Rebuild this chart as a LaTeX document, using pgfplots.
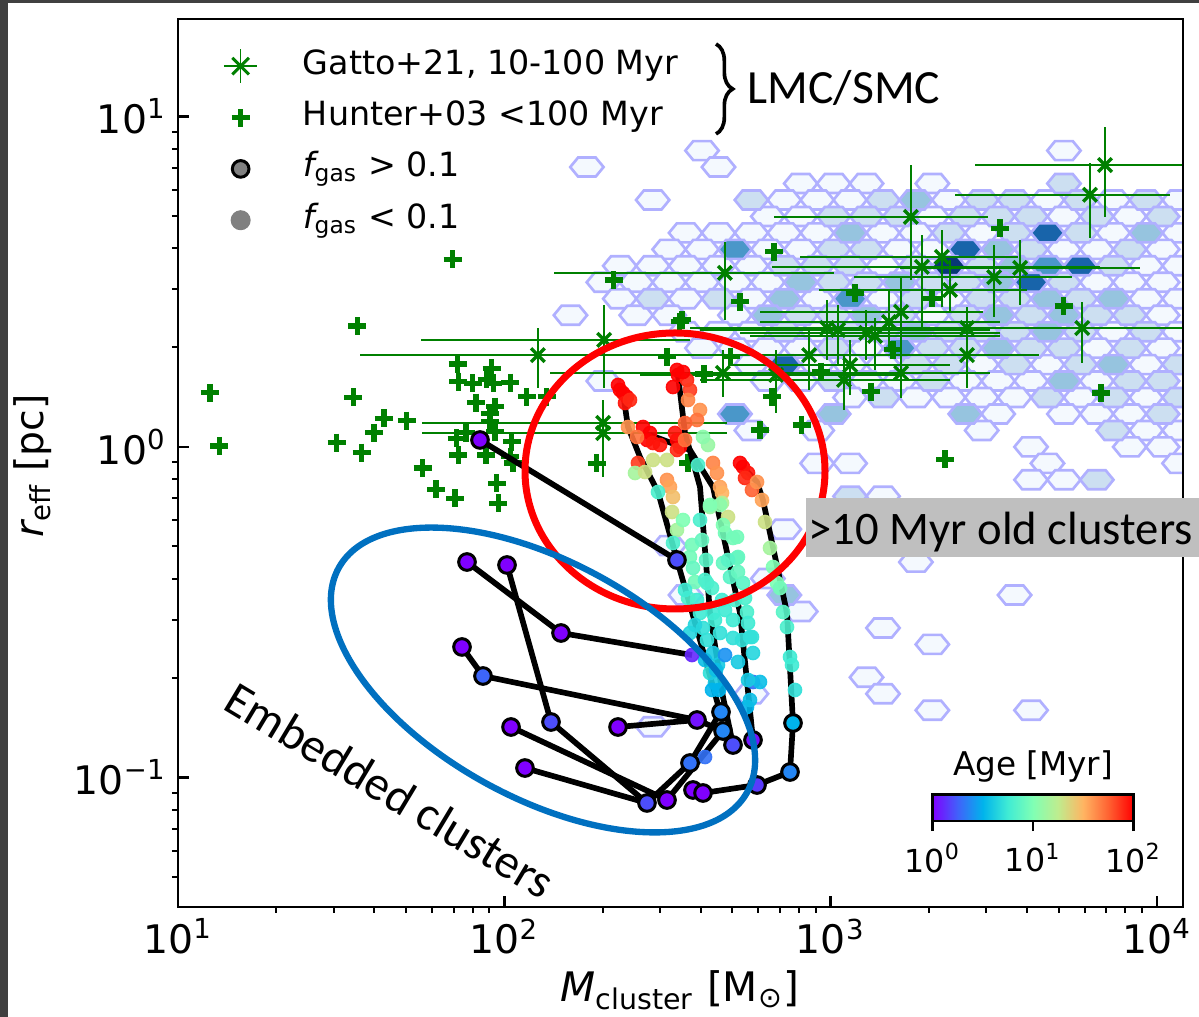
\documentclass[border=0pt]{standalone}
\usepackage{pgfplots}
\pgfplotsset{compat=1.18}
\usepackage{pgfplotstable}
\usepackage{fontspec}
\setmainfont{DejaVu Sans}
\newfontfamily\carlito{Carlito}
\usetikzlibrary{decorations.pathreplacing,calc}

\definecolor{framegray}{RGB}{64,64,64}
\definecolor{hexedge}{RGB}{176,176,255}
\definecolor{hA}{RGB}{244,249,254}
\definecolor{hB}{RGB}{204,223,241}
\definecolor{hC}{RGB}{150,196,223}
\definecolor{hD}{RGB}{74,151,201}
\definecolor{hE}{RGB}{24,100,170}
\definecolor{hF}{RGB}{8,56,118}
\definecolor{mplgreen}{RGB}{0,128,0}
\definecolor{annred}{RGB}{255,0,0}
\definecolor{annblue}{RGB}{0,112,192}
\definecolor{boxgray}{RGB}{191,191,191}

\pgfplotsset{colormap={mplrainbow}{rgb255(0cm)=(128,0,255) rgb255(1cm)=(64,98,250) rgb255(2cm)=(0,180,236) rgb255(3cm)=(64,236,212) rgb255(4cm)=(128,255,180) rgb255(5cm)=(191,236,142) rgb255(6cm)=(255,180,98) rgb255(7cm)=(255,98,50) rgb255(8cm)=(255,0,0)}}

\pgfdeclareplotmark{hexbin}{%
  \pgfpathmoveto{\pgfqpoint{5.0pt}{0pt}}%
  \pgfpathlineto{\pgfqpoint{2.65pt}{2.85pt}}%
  \pgfpathlineto{\pgfqpoint{-2.65pt}{2.85pt}}%
  \pgfpathlineto{\pgfqpoint{-5.0pt}{0pt}}%
  \pgfpathlineto{\pgfqpoint{-2.65pt}{-2.85pt}}%
  \pgfpathlineto{\pgfqpoint{2.65pt}{-2.85pt}}%
  \pgfpathclose
  \pgfusepathqfillstroke}

\newcommand\pxp[2]{({(#1)*0.3pt},{(1017-(#2))*0.3pt})}

% hexbin bins: lattice indices m (mass direction), k (radius direction)
\pgfplotstableread{
m k
3 -3
25 -3
-4 -2
4 -2
9 -1
11 -1
13 -1
17 -1
0 0
8 0
10 0
12 0
18 0
24 0
28 0
32 0
7 1
9 1
17 1
25 1
29 1
2 2
4 2
6 2
8 2
10 2
14 2
16 2
20 2
28 2
32 2
1 3
3 3
7 3
9 3
15 3
17 3
25 3
27 3
31 3
-2 4
0 4
2 4
4 4
6 4
14 4
30 4
32 4
-3 5
-1 5
1 5
3 5
5 5
7 5
27 5
29 5
31 5
-2 6
2 6
6 6
10 6
14 6
18 6
30 6
32 6
-5 7
-1 7
1 7
5 7
17 7
31 7
2 8
4 8
6 8
10 8
28 8
32 8
3 9
5 9
7 9
9 9
13 9
27 9
31 9
6 10
10 10
12 10
14 10
20 10
24 10
30 10
-3 11
7 11
9 11
13 11
15 11
19 11
21 11
23 11
27 11
12 12
16 12
18 12
20 12
22 12
26 12
30 12
21 13
25 13
27 13
29 13
6 14
10 14
20 14
30 14
32 14
23 15
29 15
31 15
10 16
12 16
24 16
32 16
23 17
25 17
14 18
8 20
1 21
16 22
7 23
2 24
22 24
9 25
14 26
17 27
13 29
6 30
14 30
17 31
23 31
0 32
}\hexA
\pgfplotstableread{
m k
25 -1
6 0
14 0
20 0
22 0
26 0
30 0
11 1
13 1
15 1
19 1
21 1
23 1
27 1
31 1
18 2
22 2
26 2
11 3
13 3
23 3
29 3
8 4
10 4
12 4
16 4
20 4
28 4
11 5
13 5
17 5
19 5
25 5
0 6
4 6
16 6
20 6
22 6
26 6
9 7
11 7
15 7
19 7
23 7
27 7
29 7
8 8
12 8
14 8
18 8
20 8
22 8
26 8
30 8
11 9
17 9
19 9
23 9
25 9
29 9
16 10
18 10
22 10
26 10
32 10
11 11
17 11
29 11
31 11
14 12
24 12
28 12
32 12
31 13
28 14
27 17
12 18
}\hexB
\pgfplotstableread{
m k
16 0
12 2
30 2
21 3
22 4
9 5
15 5
21 5
8 6
24 6
28 6
7 7
13 7
21 7
25 7
16 8
24 8
21 9
28 10
25 11
11 13
19 13
8 24
}\hexC
\pgfplotstableread{
m k
5 3
24 4
12 6
15 9
5 13
}\hexD
\pgfplotstableread{
m k
24 2
19 3
26 4
23 5
8 10
}\hexE
\pgfplotstableread{
m k
18 4
}\hexF

% simulated clusters, f_gas < 0.1 : log10 M, log10 r_eff, log10 age
\pgfplotstableread{
f g c
2.3546 0.1725 2.0
2.3638 0.1634 2.0
2.3760 0.1513 2.0
2.3699 0.1331 1.95
2.3485 0.1876 2.0
2.3852 0.1422 1.9
2.5323 0.2178 2.0
2.5292 0.2330 2.0
2.5170 0.1815 2.0
2.5599 0.2027 1.9
2.5477 0.2269 2.0
2.5691 0.1725 1.85
2.4465 0.0424 2.0
2.4251 0.0605 2.0
2.4373 0.0212 2.0
2.4557 0.0121 1.95
2.4772 0.0061 1.95
2.5292 0.0212 2.0
2.5385 0.0000 2.0
2.5231 0.0424 1.95
2.7316 -0.0605 2.0
2.7469 -0.0787 1.95
2.7224 -0.0484 2.0
2.7377 -0.0938 1.9
2.7591 -0.1301 1.75
2.4097 -0.0484 1.85
2.5292 -0.0091 1.9
2.3791 0.0605 1.6
2.4067 0.0303 1.7
2.5630 0.1422 1.65
2.5998 0.1119 1.6
2.5906 0.0817 1.7
2.5538 0.0726 1.75
2.5538 0.0212 1.7
2.6396 -0.0484 1.65
2.6518 -0.0787 1.6
2.6611 -0.1210 1.55
2.6672 -0.1392 1.5
2.7745 -0.1059 1.6
2.7898 -0.1604 1.55
2.4986 -0.0998 1.6
2.5078 -0.1210 1.55
2.5170 -0.1513 1.45
2.4006 -0.0787 1.15
2.4313 -0.0756 1.3
2.4557 -0.0393 1.3
2.4986 -0.0393 1.3
2.5140 -0.1967 1.3
2.5292 -0.2511 1.15
2.7990 -0.2269 1.3
2.8143 -0.3056 1.15
2.6304 -0.1815 1.1
2.6672 -0.1694 1.2
2.6856 -0.2118 1.3
2.6243 0.0061 1.1
2.6090 0.0303 1.05
2.4711 -0.1362 0.8
2.5170 -0.2905 0.8
2.5477 -0.2209 1.0
2.5752 -0.2965 0.95
2.5691 -0.3328 0.95
2.5783 -0.3661 0.9
2.5998 -0.2209 0.8
2.5936 -0.0545 0.8
2.6764 -0.2602 0.95
2.7132 -0.2723 0.95
2.6703 -0.3510 0.9
2.7162 -0.3328 0.9
2.6917 -0.3934 0.85
2.7316 -0.4115 0.85
2.8358 -0.4115 1.0
2.8542 -0.4993 0.85
2.8664 -0.5447 0.8
2.5691 -0.5628 0.65
2.5906 -0.4630 0.75
2.6212 -0.4115 0.8
2.6396 -0.5024 0.75
2.6611 -0.5628 0.7
2.7009 -0.5235 0.75
2.7438 -0.4993 0.8
2.7530 -0.5749 0.7
2.5844 -0.4085 0.95
2.5630 -0.4569 0.8
2.5998 -0.5024 0.75
2.6090 -0.5477 0.7
2.6212 -0.5840 0.7
2.6396 -0.6233 0.6
2.6549 -0.6596 0.6
2.6304 -0.6838 0.7
2.6457 -0.7141 0.6
2.6764 -0.6294 0.4
2.6151 -0.4024 0.8
2.6366 -0.4267 0.8
2.6672 -0.4630 0.75
2.6457 -0.5235 0.75
2.6764 -0.4933 0.75
2.7009 -0.5779 0.7
2.7162 -0.6505 0.6
2.7438 -0.7867 0.5
2.7622 -0.7110 0.3
2.6611 -0.1755 1.05
2.6703 -0.2360 1.0
2.7009 -0.2753 0.95
2.7132 -0.3359 0.9
2.7162 -0.3782 0.9
2.7377 -0.4569 0.8
2.7469 -0.5326 0.75
2.7591 -0.5749 0.7
2.7622 -0.6233 0.65
2.7836 -0.7110 0.55
2.8235 -0.3631 1.0
2.8450 -0.4267 0.95
2.8756 -0.6354 0.75
2.8817 -0.6596 0.75
2.8909 -0.7352 0.7
2.6304 -0.1755 1.0
2.6059 -0.2814 0.9
2.6182 -0.3419 0.85
2.6488 -0.6747 0.55
2.6580 -0.7352 0.5
2.6856 -0.3419 0.85
2.7070 -0.4630 0.8
2.7285 -0.5840 0.7
2.7469 -0.7050 0.6
2.7530 -0.7655 0.55
2.5538 -0.4327 0.75
2.5844 -0.5386 0.65
2.6151 -0.6445 0.55
2.6366 -0.7352 0.5
2.5752 -0.6294 0.1
2.6151 -0.9380 0.3
}\lowgas

% simulated clusters, f_gas > 0.1
\pgfplotstableread{
f g c
2.7622 -0.8865 0.05
1.9255 0.0212 0
1.8857 -0.3480 0
2.0083 -0.3570 0
2.1738 -0.5628 0
1.8704 -0.6051 0
1.9347 -0.6929 0.26
2.0206 -0.8472 0
2.1431 -0.8321 0.2
2.3485 -0.8472 0
2.0634 -0.9713 0
2.5292 -0.3419 0.2
2.5906 -0.8260 0.05
2.6641 -0.8018 0.36
2.6703 -0.8593 0.36
2.7009 -0.9017 0.2
2.5691 -0.9561 0.3
2.4373 -1.0771 0.2
2.4986 -1.0681 0
2.5783 -1.0378 0
2.6090 -1.0469 0
2.7745 -1.0227 0.15
2.8756 -0.9834 0.36
2.8848 -0.8351 0.5
}\highgas

\begin{document}
\begin{tikzpicture}
\useasboundingbox (0pt,0pt) rectangle (359.7pt,305.1pt);
\fill[white] (0pt,0pt) rectangle (359.7pt,305.1pt);
\fill[framegray] (0pt,0pt) rectangle (2.5pt,305.1pt);
\fill[framegray] (0pt,304.2pt) rectangle (359.7pt,305.1pt);

\begin{axis}[
  at={(53.4pt,33pt)}, anchor=south west,
  scale only axis, width=301.5pt, height=266.4pt,
  xmin=1, xmax=4.08, ymin=-1.3918, ymax=1.2950,
  axis on top,
  clip marker paths=true,
  axis line style={line width=0.8pt},
  tick pos=left, tick align=inside,
  major tick length=3.3pt, minor tick length=1.8pt,
  tick style={black, line width=0.8pt},
  every minor x tick/.append style={yshift=-1.8pt, line width=0.6pt},
  every minor y tick/.append style={xshift=-1.8pt, line width=0.6pt},
  xtick={1,2,3,4},
  xticklabels={10\textsuperscript{1},10\textsuperscript{2},10\textsuperscript{3},10\textsuperscript{4}},
  minor xtick={1.30103,1.47712,1.60206,1.69897,1.77815,1.84510,1.90309,1.95424,2.30103,2.47712,2.60206,2.69897,2.77815,2.84510,2.90309,2.95424,3.30103,3.47712,3.60206,3.69897,3.77815,3.84510,3.90309,3.95424},
  ytick={-1,0,1},
  yticklabels={10\textsuperscript{−1},10\textsuperscript{0},10\textsuperscript{1}},
  minor ytick={-1.30103,-1.22185,-1.15490,-1.09691,-1.04576,-0.69897,-0.52288,-0.39794,-0.30103,-0.22185,-0.15490,-0.09691,-0.04576,0.30103,0.47712,0.60206,0.69897,0.77815,0.84510,0.90309,0.95424},
  ticklabel style={font=\fontsize{11.8}{13}\selectfont},
  colormap name=mplrainbow,
  point meta min=0, point meta max=2,
  colorbar horizontal,
  colorbar style={
    at={($(parent axis.south west)+(226.4pt,34.3pt)$)}, anchor=south west,
    scale only axis, width=60.2pt, height=8pt,
    xtick={0,1,2},
    xticklabels={10\textsuperscript{0},10\textsuperscript{1},10\textsuperscript{2}},
    xticklabel style={font=\fontsize{9.5}{11}\selectfont, yshift=0pt},
    tick pos=left, tick align=outside, major tick length=3pt,
    tick style={black, line width=0.8pt},
    axis line style={line width=0.8pt},
    title={Age [Myr]},
    title style={font=\fontsize{9.8}{11}\selectfont, at={(0.5,1)}, anchor=south, yshift=-6pt},
  },
  legend style={at={(0.0335,0.9665)}, anchor=north west, draw=none, fill=none,
    inner sep=0pt, outer sep=0pt, font=\fontsize{10}{12}\selectfont,
    row sep=5.0pt, column sep=10pt,
    nodes={inner sep=0pt, text height=7.6pt, text depth=2.8pt}},
  legend cell align=left,
]

\addlegendimage{legend image code/.code={
  \path (0pt,0pt) (17pt,0pt);
  \draw[mplgreen, line width=0.45pt] (8.5pt,-5pt) -- (8.5pt,5pt) (3.5pt,0pt) -- (13.5pt,0pt);
  \draw[mplgreen, line width=0.9pt] (6pt,-2.5pt) -- (11pt,2.5pt) (6pt,2.5pt) -- (11pt,-2.5pt);
}}
\addlegendentry{Gatto+21, 10-100 Myr}
\addlegendimage{legend image code/.code={
  \path (0pt,0pt) (17pt,0pt);
  \draw[mplgreen, line width=1.6pt] (8.5pt,-2.7pt) -- (8.5pt,2.7pt) (5.8pt,0pt) -- (11.2pt,0pt);
}}
\addlegendentry{Hunter+03 <100 Myr}
\addlegendimage{legend image code/.code={
  \path (0pt,0pt) (17pt,0pt);
  \draw[fill=gray, draw=black, line width=0.9pt] (8.5pt,0pt) circle (2.5pt);
}}
\addlegendentry{{\itshape f}\textsubscript{gas} > 0.1}
\addlegendimage{legend image code/.code={
  \path (0pt,0pt) (17pt,0pt);
  \fill[gray] (8.5pt,0pt) circle (2.8pt);
}}
\addlegendentry{{\itshape f}\textsubscript{gas} < 0.1}

% hexbin density
\addplot[only marks, mark=hexbin, mark options={draw=hexedge, fill=hA, line width=0.8pt}] table[x expr={2.4548+0.050414*(\thisrow{m})}, y expr={0.74735-0.049803*(\thisrow{k})}] {\hexA};
\addplot[only marks, mark=hexbin, mark options={draw=hexedge, fill=hB, line width=0.8pt}] table[x expr={2.4548+0.050414*(\thisrow{m})}, y expr={0.74735-0.049803*(\thisrow{k})}] {\hexB};
\addplot[only marks, mark=hexbin, mark options={draw=hexedge, fill=hC, line width=0.8pt}] table[x expr={2.4548+0.050414*(\thisrow{m})}, y expr={0.74735-0.049803*(\thisrow{k})}] {\hexC};
\addplot[only marks, mark=hexbin, mark options={draw=hexedge, fill=hD, line width=0.8pt}] table[x expr={2.4548+0.050414*(\thisrow{m})}, y expr={0.74735-0.049803*(\thisrow{k})}] {\hexD};
\addplot[only marks, mark=hexbin, mark options={draw=hexedge, fill=hE, line width=0.8pt}] table[x expr={2.4548+0.050414*(\thisrow{m})}, y expr={0.74735-0.049803*(\thisrow{k})}] {\hexE};
\addplot[only marks, mark=hexbin, mark options={draw=hexedge, fill=hF, line width=0.8pt}] table[x expr={2.4548+0.050414*(\thisrow{m})}, y expr={0.74735-0.049803*(\thisrow{k})}] {\hexF};

% Gatto+21 with error bars
\addplot[only marks, mark=x, mark size=2.9pt, mplgreen, mark options={line width=1pt, solid},
  error bars/.cd, x dir=both, x explicit, y dir=both, y explicit, error mark=none,
  error bar style={line width=0.5pt, mplgreen}]
coordinates {
(3.841,0.853) += (0.245,0.115) -= (0.398,0.157)
(3.795,0.763) += (0.245,0.097) -= (0.414,0.130)
(3.246,0.696) += (0.236,0.157) -= (0.420,0.191)
(2.676,0.527) += (0.334,0.094) -= (0.524,0.142)
(3.341,0.575) += (0.233,0.082) -= (0.435,0.151)
(3.280,0.545) += (0.546,0.097) -= (0.460,0.182)
(3.501,0.514) += (0.239,0.097) -= (0.429,0.121)
(3.366,0.475) += (0.236,0.091) -= (0.401,0.070)
(3.771,0.360) += (0.316,0.079) -= (0.460,0.106)
(3.418,0.360) += (0.285,0.064) -= (0.717,0.076)
(3.418,0.278) += (0.221,0.061) -= (0.573,0.100)
(3.216,0.409) += (0.251,0.106) -= (0.432,0.257)
(3.179,0.378) += (0.340,0.097) -= (0.395,0.085)
(2.989,0.360) += (0.484,0.085) -= (0.420,0.097)
(3.023,0.354) += (0.466,0.076) -= (0.423,0.106)
(3.109,0.345) += (0.411,0.070) -= (0.386,0.082)
(3.136,0.336) += (0.383,0.054) -= (0.383,0.103)
(3.060,0.248) += (0.306,0.076) -= (0.368,0.091)
(2.934,0.278) += (0.371,0.076) -= (0.334,0.106)
(3.041,0.203) += (0.325,0.076) -= (0.441,0.091)
(3.216,0.224) += (0.083,0.070) -= (0.598,0.076)
(2.670,0.224) += (0.818,0.070) -= (0.530,0.073)
(2.103,0.278) += (0.634,0.082) -= (0.546,0.100)
(2.306,0.324) += (0.264,0.106) -= (0.561,0.145)
(2.303,0.073) += (0.380,0.070) -= (0.555,0.112)
(2.303,0.042) += (0.380,0.070) -= (0.555,0.133)
(3.581,0.542) += (0.368,0.085) -= (0.368,0.112)
(2.833,0.218) += (0.380,0.076) -= (0.417,0.115)
};

% Hunter+03
\addplot[only marks, mark=+, mark size=2.7pt, mplgreen, mark options={line width=1.6pt}]
coordinates {
(1.842,0.568) (1.550,0.366) (1.098,0.164) (1.537,0.150) (1.127,0.003) (1.486,0.013)
(1.563,-0.017) (1.601,0.043) (1.631,0.087) (1.701,0.080) (1.750,-0.064) (1.791,-0.128)
(1.849,-0.155) (1.857,0.251) (1.859,0.198) (1.903,0.193) (1.961,0.238) (1.946,0.205)
(1.966,0.193) (2.018,0.195) (2.069,0.152) (1.913,0.134) (1.972,0.122) (1.956,0.102)
(1.956,0.077) (1.854,0.026) (1.883,0.043) (1.859,-0.024) (1.944,-0.024) (1.972,0.046)
(2.023,0.016) (2.018,-0.029) (1.977,-0.110) (1.982,-0.170) (2.027,-0.048) (3.519,0.662)
(2.827,0.591) (2.335,0.505) (2.722,0.440) (3.075,0.465) (3.311,0.450) (3.714,0.427)
(2.537,0.379) (2.545,0.385) (2.499,0.273) (2.694,0.273) (2.612,0.221) (2.971,0.228)
(2.820,0.152) (3.124,0.167) (3.191,0.294) (3.829,0.163) (2.911,0.067) (2.784,0.051)
(2.283,-0.049) (2.563,-0.048) (3.351,-0.037) (2.130,0.152)
};

% evolutionary tracks
\addplot[black, line width=1.7pt, line join=round] coordinates {(1.9255,0.0212) (2.5292,-0.3419)};
\addplot[black, line width=1.7pt, line join=round] coordinates {(1.8857,-0.3480) (2.1738,-0.5628) (2.5752,-0.6294)};
\addplot[black, line width=1.7pt, line join=round] coordinates {(2.0083,-0.3570) (2.1431,-0.8321) (2.4373,-1.0771) (2.5691,-0.9561) (2.6611,-0.8048)};
\addplot[black, line width=1.7pt, line join=round] coordinates {(2.0634,-0.9713) (2.4373,-1.0771)};
\addplot[black, line width=1.7pt, line join=round] coordinates {(1.8704,-0.6051) (1.9347,-0.6929) (2.5906,-0.8260) (2.6703,-0.8593) (2.7009,-0.9017)};
\addplot[black, line width=1.7pt, line join=round] coordinates {(2.0206,-0.8472) (2.4986,-1.0681) (2.6703,-0.8593)};
\addplot[black, line width=1.7pt, line join=round] coordinates {(2.3485,-0.8472) (2.5906,-0.8260)};
\addplot[black, line width=1.7pt, line join=round] coordinates {(2.5783,-1.0378) (2.6090,-1.0469) (2.7745,-1.0227) (2.8756,-0.9834) (2.8848,-0.8351)};
\addplot[black, line width=1.7pt, line join=round] coordinates {(2.3638,0.1634) (2.3791,0.0605) (2.4159,-0.0303) (2.4711,-0.1362) (2.5292,-0.3419) (2.5998,-0.5840) (2.6611,-0.8018)};
\addplot[black, line width=1.7pt, line join=round] coordinates {(2.5323,0.2178) (2.5538,0.0424) (2.5998,-0.1210) (2.6304,-0.5024) (2.6703,-0.7564) (2.7009,-0.9017)};
\addplot[black, line width=1.7pt, line join=round] coordinates {(2.4465,0.0363) (2.5691,-0.0091) (2.6396,-0.1210) (2.7224,-0.5024) (2.7622,-0.8865)};
\addplot[black, line width=1.7pt, line join=round] coordinates {(2.7316,-0.0605) (2.7745,-0.1059) (2.7928,-0.1604) (2.8664,-0.5024) (2.8848,-0.8351)};

\addplot[scatter, only marks, mark=*, mark size=2pt, scatter src=explicit,
  scatter/use mapped color={draw=mapped color, fill=mapped color}, mark options={fill opacity=0.9, draw opacity=0.9}]
  table[x=f, y=g, meta=c] {\lowgas};
\addplot[scatter, only marks, mark=*, mark size=2.5pt, scatter src=explicit,
  scatter/use mapped color={draw=black, fill=mapped color}, mark options={line width=0.9pt}]
  table[x=f, y=g, meta=c] {\highgas};
\end{axis}

% axis labels
\node[rotate=90, font=\fontsize{11.8}{13}\selectfont] at \pxp{33}{466} {{\itshape r}\textsubscript{eff} [pc]};
\node[font=\fontsize{12.2}{14}\selectfont] at \pxp{680}{990} {{\itshape M}\textsubscript{cluster} [M\textsubscript{⊙}]};

% annotations
\draw[annred, line width=2.1pt] \pxp{675}{471} ellipse [x radius=45pt, y radius=41.4pt];
\begin{scope}[shift={(162.9pt,101.1pt)}, rotate=-28.7]
\draw[annblue, line width=1.9pt] (0pt,0pt) ellipse [x radius=69.9pt, y radius=35.4pt];
\end{scope}
\node[font=\carlito\fontsize{14.5}{16}\selectfont, rotate=-31] at \pxp{390}{790} {Embedded clusters};
\fill[boxgray] \pxp{806}{498} rectangle \pxp{1199}{557};
\node[anchor=base west, inner sep=0pt, font=\carlito\fontsize{14}{16}\selectfont] at \pxp{808}{545} {>10 Myr old clusters};
\node[anchor=base west, inner sep=0pt, font=\carlito\fontsize{14.3}{16}\selectfont] at \pxp{747}{103.5} {LMC/SMC};
\draw[decorate, decoration={brace, amplitude=5pt}, line width=1.1pt] \pxp{716}{44} -- \pxp{716}{134};
\end{tikzpicture}
\end{document}
